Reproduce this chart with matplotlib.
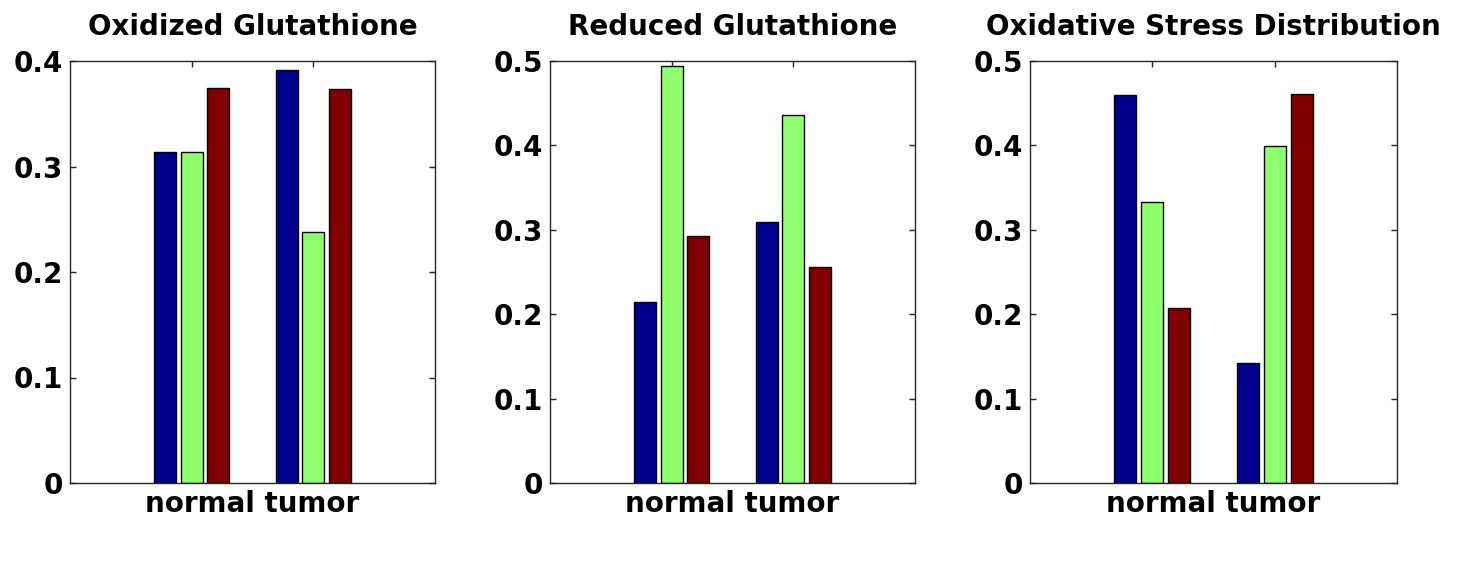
import numpy as np
import matplotlib.pyplot as plt

plt.rcParams['font.family'] = ['DejaVu Sans']
plt.rcParams['font.weight'] = 'bold'

# groups on the x axis, three bars per group
groups = [1, 2]
xlabel = 'normal tumor'

titles = ['Oxidized Glutathione', 'Reduced Glutathione', 'Oxidative Stress Distribution']

# values per panel: blue, green, red series; each list = normal, tumor
oxidized_blue = [0.314, 0.391]
oxidized_green = [0.314, 0.238]
oxidized_red = [0.374, 0.373]

reduced_blue = [0.215, 0.309]
reduced_green = [0.494, 0.436]
reduced_red = [0.293, 0.256]

stress_blue = [0.460, 0.142]
stress_green = [0.333, 0.399]
stress_red = [0.207, 0.461]

ylims = [0.4, 0.5, 0.5]
yticks = [[0, 0.1, 0.2, 0.3, 0.4],
          [0, 0.1, 0.2, 0.3, 0.4, 0.5],
          [0, 0.1, 0.2, 0.3, 0.4, 0.5]]

# MATLAB jet-like bar colours
colors = ['#00008F', '#8FFF70', '#800000']

panels = [
    (oxidized_blue, oxidized_green, oxidized_red),
    (reduced_blue, reduced_green, reduced_red),
    (stress_blue, stress_green, stress_red),
]

fig = plt.figure(figsize=(14.74, 5.76), dpi=100)
lefts = [70 / 1474, 550 / 1474, 1030 / 1474]
widths = [365 / 1474, 365 / 1474, 367 / 1474]
bottom = 93 / 576
height = 422 / 576

x = np.array(groups, dtype=float)
bw = 0.18
offs = [-0.22, 0.0, 0.22]

for i, series in enumerate(panels):
    ax = fig.add_axes([lefts[i], bottom, widths[i], height])
    for s, vals in enumerate(series):
        ax.bar(x + offs[s], vals, width=bw, color=colors[s],
               edgecolor='black', linewidth=1.0, zorder=2)
    ax.set_xlim(0, 3)
    ax.set_ylim(0, ylims[i])
    ax.set_yticks(yticks[i])
    ax.set_yticklabels(['0' if v == 0 else '%.1f' % v for v in yticks[i]])
    ax.set_xticks(groups)
    ax.set_xticklabels(['', ''])
    ax.tick_params(direction='in', length=4, width=1, top=True, right=True,
                   labelsize=20, pad=5, colors='#262626', labelcolor='black')
    ax.set_xlabel(xlabel, fontsize=20, fontweight='bold', labelpad=0)
    ax.set_title(titles[i], fontsize=20, fontweight='bold', pad=19)
    for sp in ax.spines.values():
        sp.set_linewidth(1.0)
        sp.set_color('#262626')

fig.savefig('out.png', dpi=100)
